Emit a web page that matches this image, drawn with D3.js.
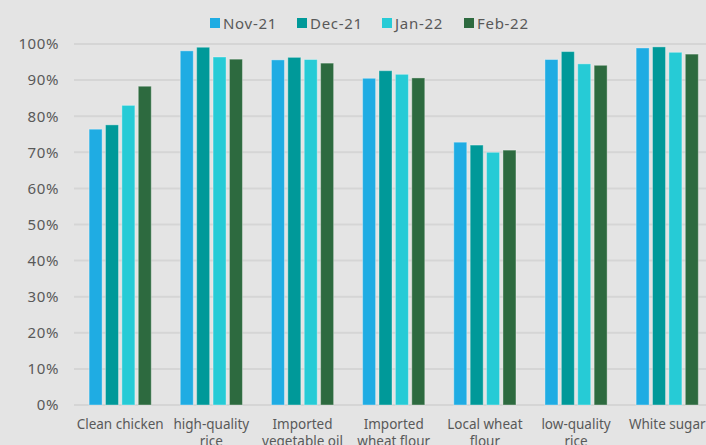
<!DOCTYPE html>
<html>
<head>
<meta charset="utf-8">
<script src="https://cdn.jsdelivr.net/npm/d3@7"></script>
<style>
  html, body { margin: 0; padding: 0; background: #e4e4e4; }
  svg { display: block; }
  text { font-family: "Noto Sans", "DejaVu Sans", sans-serif; fill: #595959; }
</style>
</head>
<body>
<svg id="chart" width="706" height="445"></svg>
<script>
// Share of outlets reporting availability, by commodity and month
const categories = [
  "Clean chicken",
  "high-quality rice",
  "Imported vegetable oil",
  "Imported wheat flour",
  "Local wheat flour",
  "low-quality rice",
  "White sugar"
];
const categoryLines = [
  ["Clean chicken"],
  ["high-quality", "rice"],
  ["Imported", "vegetable oil"],
  ["Imported", "wheat flour"],
  ["Local wheat", "flour"],
  ["low-quality", "rice"],
  ["White sugar"]
];
const seriesNames = ["Nov-21", "Dec-21", "Jan-22", "Feb-22"];
const nov21 = [76.4, 98.1, 95.6, 90.5, 72.8, 95.7, 98.9];
const dec21 = [77.6, 99.1, 96.3, 92.6, 72.0, 97.9, 99.2];
const jan22 = [83.0, 96.4, 95.7, 91.6, 70.0, 94.5, 97.7];
const feb22 = [88.3, 95.8, 94.7, 90.6, 70.6, 94.1, 97.2];
const seriesValues = [nov21, dec21, jan22, feb22];
const colors = ["#1facE3", "#009999", "#26cbd6", "#2d6a3f"];
const yTicks = [0, 10, 20, 30, 40, 50, 60, 70, 80, 90, 100];

const svg = d3.select("#chart");
const W = 706, H = 445;

const plotLeft = 74.6, plotRight = 712.8, plotTop = 44, plotBottom = 405;

const x0 = d3.scaleBand()
  .domain(categories)
  .range([plotLeft, plotRight])
  .paddingInner(0.318)
  .paddingOuter(0.159);

const x1 = d3.scaleBand()
  .domain(seriesNames)
  .range([0, x0.bandwidth()])
  .paddingInner(0.207);

const y = d3.scaleLinear().domain([0, 100]).range([plotBottom, plotTop]);

// Background
svg.append("rect").attr("width", W).attr("height", H).attr("fill", "#e4e4e4");

// Gridlines
svg.append("g")
  .selectAll("line")
  .data(yTicks)
  .join("line")
  .attr("x1", 74)
  .attr("x2", W)
  .attr("y1", d => y(d))
  .attr("y2", d => y(d))
  .attr("stroke", "#d5d5d5")
  .attr("stroke-width", 2);

// Y axis labels
const yAxis = d3.axisLeft(y)
  .tickValues(yTicks)
  .tickFormat(d => d + "%")
  .tickSize(0)
  .tickPadding(0);
const yG = svg.append("g")
  .attr("transform", "translate(59,0)")
  .call(yAxis);
yG.select(".domain").remove();
yG.selectAll("text")
  .attr("font-size", 15)
  .attr("fill", "#595959")
  .style("letter-spacing", "0.6px")
  .style("font-family", "'Noto Sans', sans-serif");

// Bars
const groups = svg.append("g")
  .selectAll("g")
  .data(categories)
  .join("g")
  .attr("transform", d => `translate(${x0(d)},0)`);

groups.selectAll("rect")
  .data((c, i) => seriesNames.map((s, j) => ({ s, j, v: seriesValues[j][i] })))
  .join("rect")
  .attr("x", d => x1(d.s))
  .attr("width", x1.bandwidth())
  .attr("y", d => y(d.v))
  .attr("height", d => y(0) - y(d.v))
  .attr("fill", d => colors[d.j])
  .attr("stroke", "rgba(255,255,255,0.35)")
  .attr("stroke-width", 1);

// Category labels
const xLab = svg.append("g");
categories.forEach((c, i) => {
  const t = xLab.append("text")
    .attr("x", x0(c) + x0.bandwidth() / 2)
    .attr("y", 429)
    .attr("text-anchor", "middle")
    .attr("font-size", 13.5);
  categoryLines[i].forEach((line, k) => {
    t.append("tspan")
      .attr("x", x0(c) + x0.bandwidth() / 2)
      .attr("dy", k === 0 ? 0 : 17)
      .text(line);
  });
});

// Legend
const legendX = [210, 297, 382, 464];
const legend = svg.append("g");
seriesNames.forEach((s, j) => {
  legend.append("rect")
    .attr("x", legendX[j])
    .attr("y", 18)
    .attr("width", 10)
    .attr("height", 10)
    .attr("fill", colors[j]);
  legend.append("text")
    .attr("x", legendX[j] + 13)
    .attr("y", 28.5)
    .attr("font-size", 15)
    .style("letter-spacing", "0.7px")
    .text(s);
});
</script>
</body>
</html>
